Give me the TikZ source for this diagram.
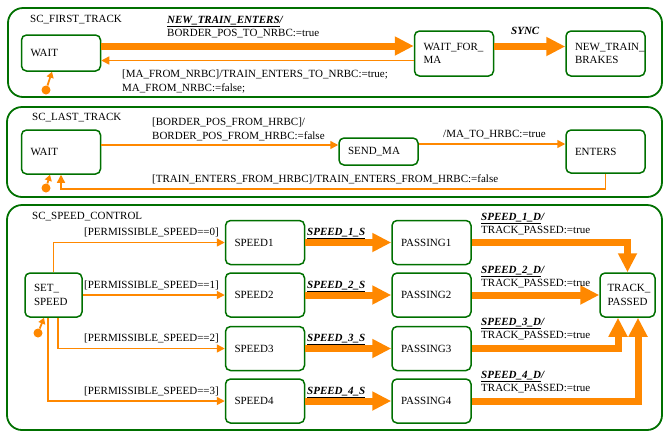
\documentclass[tikz,border=0pt]{standalone}
\usepackage{fontspec}
\setmainfont{Liberation Serif}
\usetikzlibrary{arrows.meta}
\definecolor{scgreen}{RGB}{0,112,0}
\definecolor{scorange}{RGB}{255,136,0}
\newcommand{\evt}[1]{\underline{\textbf{\textit{#1}}}}
\begin{document}
\begin{tikzpicture}[x=1pt, y=-1pt, font=\fontsize{11}{13.5}\selectfont,
    state/.style={draw=scgreen, line width=1.5pt, rounded corners=5pt, align=left,
        text width=61pt, inner xsep=9pt, inner ysep=0pt, minimum height=44pt},
    chart/.style={draw=scgreen, line width=1.8pt, rounded corners=15pt},
    lbl/.style={anchor=north west, inner sep=0pt, align=left},
    trans/.style={draw=scorange, line width=1.5pt, -{Triangle[length=8pt, width=8pt]}},
    bigtrans/.style={draw=scorange, line width=7pt, -{Triangle[length=19pt, width=18pt]}},
    initdot/.style={circle, fill=scorange, inner sep=0pt, minimum size=9pt},
    initarrow/.style={draw=scorange, line width=1.8pt, -{Triangle[length=6pt, width=7pt]}}]
        \useasboundingbox (0, 0) rectangle (663, 432);

        % SC_FIRST_TRACK
        \draw[chart] (8, 8) rectangle (662, 97);
        \node[lbl] at (30, 15)  (t1)    {SC\_FIRST\_TRACK};
        \node[state, minimum height=36pt] at (61, 53)     (wait1)  {WAIT};
        \node[state, minimum height=45pt] at (454, 53.5)  (waitma) {WAIT\_FOR\_\\MA};
        \node[state, minimum height=45pt] at (605.5, 53.5) (brakes) {NEW\_TRAIN\_\\BRAKES};
        \node[initdot] at (46, 90)  (i1)    {};

        \draw[bigtrans]  ([yshift=7pt]wait1.east) -- ([yshift=7pt]wait1.east -| waitma.west);
        \draw[trans]     ([yshift=-7pt]waitma.west) -- ([yshift=-7pt]waitma.west -| wait1.east);
        \draw[bigtrans]  ([yshift=7pt]waitma.east) -- ([yshift=7pt]waitma.east -| brakes.west);
        \draw[initarrow] (i1) -- ([xshift=-9pt]wait1.south);

        \node[lbl] at (167, 16)  (l1)   {\evt{NEW\_TRAIN\_ENTERS}\textbf{\textit{/}}\\BORDER\_POS\_TO\_NRBC:=true};
        \node[lbl] at (122, 70)  (l2)   {[MA\_FROM\_NRBC]/TRAIN\_ENTERS\_TO\_NRBC:=true;\\MA\_FROM\_NRBC:=false;};
        \node[lbl] at (511, 27)  (l3)   {\textbf{\textit{SYNC}}};

        % SC_LAST_TRACK
        \draw[chart] (7, 107) rectangle (662, 197);
        \node[lbl] at (32, 113)  (t2)   {SC\_LAST\_TRACK};
        \node[state] at (61, 152)        (wait2)  {WAIT};
        \node[state, minimum height=27pt] at (378.5, 151.5) (sendma) {SEND\_MA};
        \node[state, minimum height=43pt] at (605.5, 151.5) (enters) {ENTERS};
        \node[initdot] at (46, 188) (i2)    {};

        \draw[trans]  ([yshift=7pt]wait2.east) -- ([yshift=7pt]wait2.east -| sendma.west);
        \draw[trans]  ([yshift=7.5pt]sendma.east) -- ([yshift=7.5pt]sendma.east -| enters.west);
        \draw[trans]  (enters.south) |- ([yshift=-14pt]wait2.south) -- (wait2.south);
        \draw[initarrow] (i2) -- ([xshift=-11pt]wait2.south);

        \node[lbl] at (152, 118) (l4)   {[BORDER\_POS\_FROM\_HRBC]/\\BORDER\_POS\_FROM\_HRBC:=false};
        \node[lbl] at (443, 130) (l5)   {/MA\_TO\_HRBC:=true};
        \node[lbl] at (152, 175) (l6)   {[TRAIN\_ENTERS\_FROM\_HRBC]/TRAIN\_ENTERS\_FROM\_HRBC:=false};

        % SC_SPEED_CONTROL
        \draw[chart] (7, 205) rectangle (662, 430);
        \node[lbl] at (32, 212)  (t3)   {SC\_SPEED\_CONTROL};
        \node[state, text width=39pt] at (53.5, 295) (setspeed) {SET\_\\SPEED};
        \node[state] at (265, 242.5)   (speed1)   {SPEED1};
        \node[state] at (265, 295)     (speed2)   {SPEED2};
        \node[state] at (265, 348.5)   (speed3)   {SPEED3};
        \node[state] at (265, 401)     (speed4)   {SPEED4};
        \node[state] at (431.5, 242.5) (passing1) {PASSING1};
        \node[state] at (431.5, 295)   (passing2) {PASSING2};
        \node[state] at (431.5, 348.5) (passing3) {PASSING3};
        \node[state] at (431.5, 401)   (passing4) {PASSING4};
        \node[state, text width=40pt, inner xsep=7.5pt] at (627.5, 295) (tpassed) {TRACK\_\\PASSED};
        \node[initdot] at (38, 333) (i3)    {};

        \draw[trans]  (setspeed.north) |- (speed1.west);
        \draw[trans]  (setspeed.east) -- (speed2.west);
        \draw[trans]  ([xshift=4.5pt]setspeed.south) |- (speed3.west);
        \draw[trans]  ([xshift=-5.5pt]setspeed.south) |- (speed4.west);
        \draw[initarrow] (i3) -- ([xshift=-9.5pt]setspeed.south);

        \draw[bigtrans]  (speed1.east) -- (passing1.west);
        \draw[bigtrans]  (speed2.east) -- (passing2.west);
        \draw[bigtrans]  (speed3.east) -- (passing3.west);
        \draw[bigtrans]  (speed4.east) -- (passing4.west);

        \draw[bigtrans]  (passing1.east) -| (tpassed.north);
        \draw[bigtrans]  (passing2.east) -- (tpassed.west);
        \draw[bigtrans]  (passing3.east) -| ([xshift=-9.5pt]tpassed.south);
        \draw[bigtrans]  (passing4.east) -| ([xshift=10.5pt]tpassed.south);

        \node[lbl] at (84, 228)  (g0)   {[PERMISSIBLE\_SPEED==0]};
        \node[lbl] at (84, 281)  (g1)   {[PERMISSIBLE\_SPEED==1]};
        \node[lbl] at (84, 334)  (g2)   {[PERMISSIBLE\_SPEED==2]};
        \node[lbl] at (84, 387)  (g3)   {[PERMISSIBLE\_SPEED==3]};

        \node[lbl] at (307, 228) (s1)   {\evt{SPEED\_1\_S}};
        \node[lbl] at (307, 281) (s2)   {\evt{SPEED\_2\_S}};
        \node[lbl] at (307, 334) (s3)   {\evt{SPEED\_3\_S}};
        \node[lbl] at (307, 387) (s4)   {\evt{SPEED\_4\_S}};

        \node[lbl] at (481, 213) (d1)   {\evt{SPEED\_1\_D}\textbf{\textit{/}}\\TRACK\_PASSED:=true};
        \node[lbl] at (481, 266) (d2)   {\evt{SPEED\_2\_D}\textbf{\textit{/}}\\TRACK\_PASSED:=true};
        \node[lbl] at (481, 318) (d3)   {\evt{SPEED\_3\_D}\textbf{\textit{/}}\\TRACK\_PASSED:=true};
        \node[lbl] at (481, 371) (d4)   {\evt{SPEED\_4\_D}\textbf{\textit{/}}\\TRACK\_PASSED:=true};

    \end{tikzpicture}
\end{document}
